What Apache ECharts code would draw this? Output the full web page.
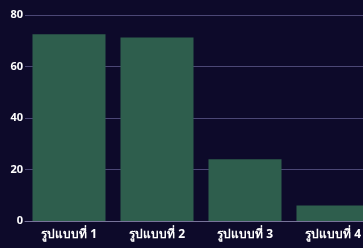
<!DOCTYPE html>
<html>
<head>
<meta charset="utf-8">
<script src="https://cdn.jsdelivr.net/npm/echarts@6/dist/echarts.min.js"></script>
<style>
  html, body { margin: 0; padding: 0; background: #0d0a2a; }
  #chart { width: 363px; height: 248px; }
</style>
</head>
<body>
<div id="chart"></div>
<script>
var categories = ['รูปแบบที่ 1', 'รูปแบบที่ 2', 'รูปแบบที่ 3', 'รูปแบบที่ 4'];
var values = [72.5, 71.3, 24, 6];

var chart = echarts.init(document.getElementById('chart'));
chart.setOption({
  backgroundColor: '#0d0a2a',
  animation: false,
  // plot runs past the right edge, the last bar is cut off
  grid: {left: 25, width: 352, top: 15, bottom: 27, outerBoundsMode: 'none'},
  xAxis: {
    type: 'category',
    data: categories,
    axisTick: {show: false},
    axisLine: {lineStyle: {color: '#77739a', width: 1}},
    axisLabel: {color: '#ffffff', fontWeight: 'bold', fontSize: 12, margin: 8, fontFamily: 'Noto Sans'}
  },
  yAxis: {
    type: 'value',
    min: 0,
    max: 80,
    interval: 20,
    axisLine: {show: false},
    axisTick: {show: false},
    axisLabel: {color: '#ffffff', fontWeight: 'bold', fontSize: 11, margin: 2, fontFamily: 'Noto Sans'},
    splitLine: {lineStyle: {color: '#4b4775', width: 1}}
  },
  series: [{
    type: 'bar',
    data: values,
    barCategoryGap: '17%',
    itemStyle: {color: '#2e5e4d'}
  }]
});
</script>
</body>
</html>
